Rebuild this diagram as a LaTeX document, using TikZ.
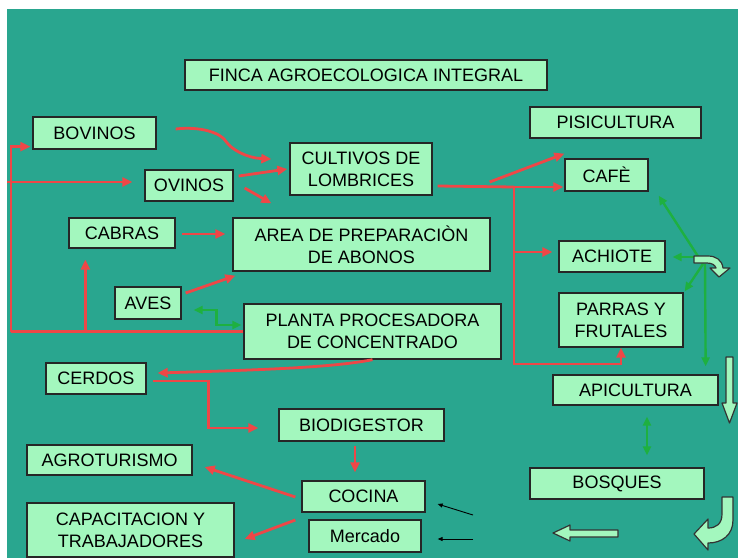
\documentclass[tikz,border=0pt]{standalone}
\usepackage{fontspec}
\setmainfont{Liberation Sans}
\usetikzlibrary{arrows.meta,calc}
\definecolor{teal1}{HTML}{29A68F}
\definecolor{boxg}{HTML}{A3F7BE}
\definecolor{redA}{HTML}{EE4747}
\definecolor{grnA}{HTML}{1EB040}
\begin{document}
\begin{tikzpicture}[x=1pt,y=-1pt,
 box/.style={draw=black!85, line width=1.3pt, fill=boxg, inner sep=0pt, align=center, font=\fontsize{18}{22}\selectfont},
 rarr/.style={draw=redA, line width=2.8pt, -{Triangle[length=10pt,width=9pt]}},
 rline/.style={draw=redA, line width=2.8pt},
 garr/.style={draw=grnA, line width=2.4pt, -{Triangle[length=9pt,width=8pt]}},
 gdarr/.style={draw=grnA, line width=2.4pt, {Triangle[length=9pt,width=8pt]}-{Triangle[length=9pt,width=8pt]}},
 barr/.style={draw=black, line width=0.9pt, -{Triangle[length=5pt,width=4pt]}},
 blk/.style={draw=black!80, line width=1.2pt, fill=boxg, line join=round}]
\useasboundingbox (0,0) rectangle (738,558);
\fill[white] (0,0) rectangle (738,558);
\fill[teal1] (7,9) rectangle (738,558);

% boxes
\node[box, minimum width=362pt, minimum height=30pt] (title) at (366,75) {FINCA AGROECOLOGICA INTEGRAL};
\node[box, minimum width=123pt, minimum height=32pt] (bov) at (94.5,133) {BOVINOS};
\node[box, minimum width=88pt, minimum height=31pt] (ovi) at (189,185.5) {OVINOS};
\node[box, minimum width=142pt, minimum height=52pt] (cul) at (361,169) {CULTIVOS DE\\LOMBRICES};
\node[box, minimum width=171pt, minimum height=31pt] (pis) at (615.5,122.5) {PISICULTURA};
\node[box, minimum width=83pt, minimum height=32pt] (caf) at (606.5,175) {CAFÈ};
\node[box, minimum width=106pt, minimum height=30pt] (cab) at (122,233) {CABRAS};
\node[box, minimum width=257pt, minimum height=53pt] (area) at (361.5,244.5) {AREA DE PREPARACIÒN\\DE ABONOS};
\node[box, minimum width=66pt, minimum height=32pt] (aves) at (148,303) {AVES};
\node[box, minimum width=257pt, minimum height=55pt] (plan) at (372.5,331.5) {PLANTA PROCESADORA\\DE CONCENTRADO};
\node[box, minimum width=100pt, minimum height=31pt] (cer) at (96,378.5) {CERDOS};
\node[box, minimum width=106pt, minimum height=31pt] (ach) at (612,256.5) {ACHIOTE};
\node[box, minimum width=124pt, minimum height=54pt] (par) at (621,320) {PARRAS Y\\FRUTALES};
\node[box, minimum width=165pt, minimum height=30pt] (api) at (635.5,390) {APICULTURA};
\node[box, minimum width=165pt, minimum height=32pt] (bio) at (361.5,425) {BIODIGESTOR};
\node[box, minimum width=165pt, minimum height=30pt] (agr) at (109.5,460) {AGROTURISMO};
\node[box, minimum width=123pt, minimum height=31pt] (coc) at (363.5,496.5) {COCINA};
\node[box, minimum width=112pt, minimum height=32pt] (mer) at (365,536) {Mercado};
\node[box, minimum width=207pt, minimum height=54pt] (cap) at (130.5,530) {CAPACITACION Y\\TRABAJADORES};
\node[box, minimum width=174pt, minimum height=31pt] (bos) at (617,483.5) {BOSQUES};

% named free ends / junctions
\coordinate (busB) at (11,331.5);
\coordinate (busL) at (7,182);
\coordinate (jn) at (514,187);
\coordinate (hub) at (703,264);
\coordinate (k1) at (473,515);
\coordinate (k2) at (473,539);
\coordinate (cabx) at ($(cab.south west)+(17,0)$);

% left bus
\draw[rline] (plan.west) -- (busB);
\draw[rarr] (busB) |- ($(bov.south west)+(-2,-3)$);
\draw[rarr] (busL) -- ($(ovi.west)+(-12,-3.5)$);
\draw[rarr] (cabx |- busB) -- ($(cabx)+(0,11)$);

% animals to cultivos / area
\draw[rarr] ($(bov.east)+(19,-4)$) .. controls +(25,-3) and +(-5,-8) .. ($(bov.east)+(69,8)$)
  .. controls +(5,8) and +(-25,-1) .. ($(cul.west)+(-18,-10)$);
\draw[rarr] ($(ovi.east)+(5,-9.5)$) -- ($(cul.west)+(-2,0)$);
\draw[rarr] ($(ovi.east)+(11,2.5)$) -- ($(area.north west)+(39,-14)$);
\draw[rarr] ($(cab.east)+(6,1)$) -- ($(area.west)+(-7,-10.5)$);
\draw[rarr] ($(aves.east)+(4,-10)$) -- ($(area.south west)+(3,4)$);
\draw[gdarr] ($(aves.east)+(12,7)$) -- ++(23,0) |- ($(plan.west)+(-2,-6.5)$);

% cultivos to the right
\draw[rline] ($(cul.east)+(5,17)$) -- (jn);
\draw[rarr] (jn) -- ($(caf.west)+(-1,12)$);
\draw[rarr] ($(cul.east)+(57,13)$) -- ($(pis.south west)+(35,15)$);
\draw[rarr] (jn) |- ($(ach.west)+(-6,-4.5)$);
\draw[rarr] (jn) -- (jn |- 0,364) -| (par.south);

% planta to cerdos, cerdos to biodigestor
\draw[rarr] (plan.south) .. controls +(-40,8) and +(100,-3) .. ($(cer.east)+(11,-5.5)$);
\draw[rarr] ($(cer.east)+(6,2.5)$) -- ++(56,0) |- ($(bio.west)+(-20,3)$);
\draw[rarr] ($(bio.south)+(-6.5,4)$) -- ($(coc.north)+(-8.5,-8)$);
\draw[rarr] ($(coc.west)+(-6,0.5)$) -- ($(agr.east)+(12,7)$);
\draw[rarr] ($(coc.west)+(-6,23.5)$) -- ($(cap.east)+(10,9)$);

% thin black arrows
\draw[barr] (k1) -- ($(coc.east)+(12,7.5)$);
\draw[barr] (k2) -- ($(mer.east)+(16,3)$);

% green hub
\draw[garr] (hub) -- ($(caf.south east)+(10,4)$);
\draw[garr] ($(hub)+(-2,-7)$) -- ($(ach.east)+(7,0.5)$);
\draw[garr] (hub) -- ($(par.north east)+(1,-1)$);
\draw[garr] ($(hub)+(2,0)$) -- ($(api.north east)+(-13,-8)$);
\draw[gdarr] ($(api.south)+(11.5,11)$) -- ($(bos.north)+(30,-12)$);

% block arrows
\draw[blk] (694,256) -- (708,256) .. controls (716,256) and (722,260) .. (723,268) -- (730,268)
  -- (719,277) -- (710,268) -- (716,268) .. controls (715,265) and (712,263) .. (707,263) -- (694,263) -- cycle;
\draw[blk] (726,357) -- (733,357) -- (733,403) -- (737,403) -- (729.5,423) -- (722,403) -- (726,403) -- cycle;
\draw[blk] (618,530) -- (570,530) -- (570,525) -- (553,533) -- (570,541) -- (570,537) -- (618,537) -- cycle;
\draw[blk] (722,497) -- (733,497) -- (733,520) .. controls (733,535) and (722,543) .. (708,543) -- (708,550)
  -- (694,534) -- (708,519) -- (708,528) .. controls (716,528) and (722,524) .. (722,514) -- cycle;
\end{tikzpicture}
\end{document}
